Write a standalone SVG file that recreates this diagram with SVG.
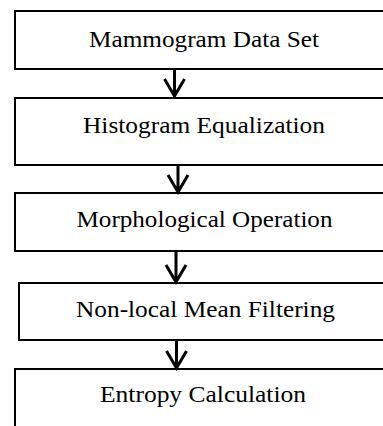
<svg xmlns="http://www.w3.org/2000/svg" width="383" height="426" viewBox="0 0 383 426">
<style>
.box{fill:#fff;stroke:#000;stroke-width:2}
.lbl{font-family:"Liberation Serif","Times New Roman",serif;font-size:22.5px;fill:#000;text-anchor:middle}
.conn{fill:none;stroke:#000;stroke-width:3}
</style>
<rect width="383" height="426" fill="#fff"/>
<g id="n1"><rect class="box" x="15" y="11" width="380" height="58"/><text class="lbl" x="204" y="46.5" textLength="230" lengthAdjust="spacingAndGlyphs">Mammogram Data Set</text></g>
<g id="n2"><rect class="box" x="15" y="98" width="380" height="67"/><text class="lbl" x="204" y="132.5" textLength="242" lengthAdjust="spacingAndGlyphs">Histogram Equalization</text></g>
<g id="n3"><rect class="box" x="15" y="193" width="380" height="58"/><text class="lbl" x="204.5" y="226.5" textLength="256" lengthAdjust="spacingAndGlyphs">Morphological Operation</text></g>
<g id="n4"><rect class="box" x="19" y="283" width="376" height="57"/><text class="lbl" x="205.5" y="317" textLength="259" lengthAdjust="spacingAndGlyphs">Non-local Mean Filtering</text></g>
<g id="n5"><rect class="box" x="15" y="369" width="380" height="70"/><text class="lbl" x="203" y="401.5" textLength="206" lengthAdjust="spacingAndGlyphs">Entropy Calculation</text></g>
<g id="connectors">
<path class="conn" d="M174.5 69V96M164.5 79L174.5 96L184.5 79"/>
<path class="conn" d="M178 165V192M168 175L178 192L188 175"/>
<path class="conn" d="M176 251V282M166 265L176 282L186 265"/>
<path class="conn" d="M176.5 340V368M166.5 351L176.5 368L186.5 351"/>
</g>
</svg>
